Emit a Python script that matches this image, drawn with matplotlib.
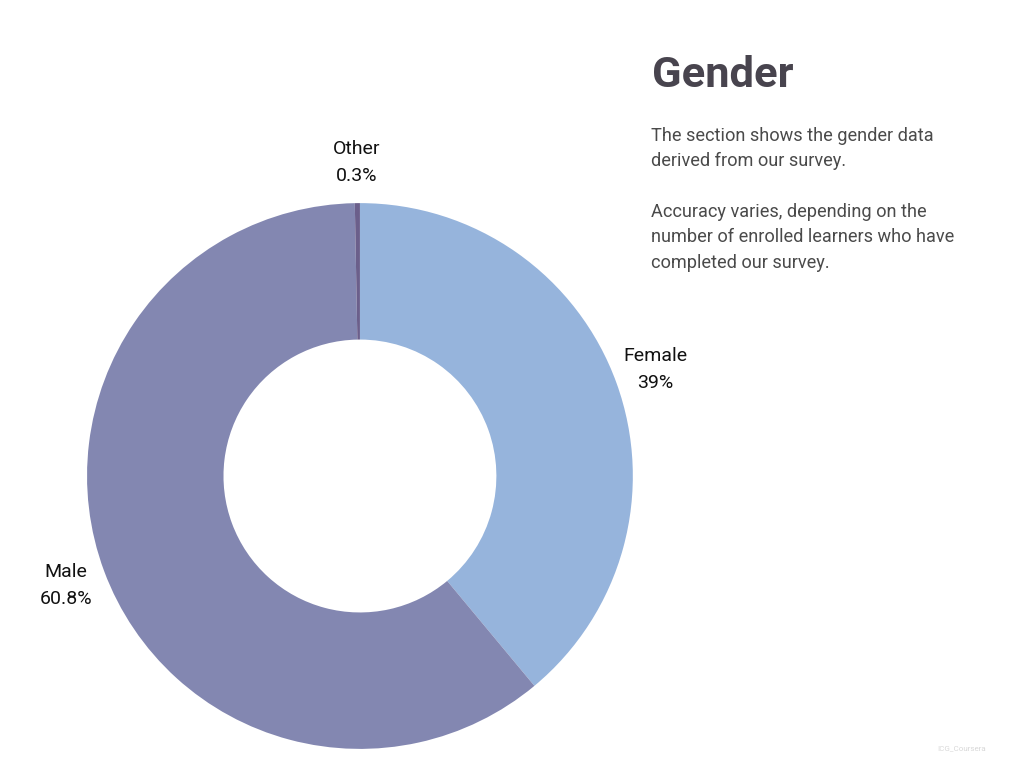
import matplotlib.pyplot as plt

# data
labels = ['Female', 'Male', 'Other']
shares = [39, 60.8, 0.3]
share_text = ['39%', '60.8%', '0.3%']
colors = ['#96b4dc', '#8387b1', '#6b5f8b']

plt.rcParams['font.family'] = ['Roboto', 'DejaVu Sans']

fig = plt.figure(figsize=(10.24, 7.68), dpi=100)

# donut
ax = fig.add_axes([0.085, 0.0247, 0.533, 0.711])
wedges, texts = ax.pie(shares,
                       labels=[l + '\n' + s for l, s in zip(labels, share_text)],
                       colors=colors, startangle=90, counterclock=False,
                       labeldistance=1.15, radius=1.0,
                       wedgeprops=dict(width=0.5, linewidth=0),
                       textprops=dict(fontsize=14, color='#111111'))
for t in texts:
    t.set_ha('center')
    t.set_va('center')
    t.set_linespacing(1.62)
ax.set_xlim(-1, 1)
ax.set_ylim(-1, 1)
ax.set_aspect('equal')

# side text
fig.text(652 / 1024, 1 - 87 / 768, 'Gender', fontsize=31.3, fontweight='bold',
         color='#48444e', ha='left', va='baseline')
fig.text(651 / 1024, 1 - 127 / 768,
         'The section shows the gender data\nderived from our survey.\n\n'
         'Accuracy varies, depending on the\nnumber of enrolled learners who have\n'
         'completed our survey.',
         fontsize=13.1, color='#4a4a4a', ha='left', va='top', linespacing=1.52)

fig.text(962 / 1024, 1 - 748 / 768, 'ICG_Coursera', fontsize=5.8, color='#d8d8d8',
         ha='center', va='center')

plt.savefig('out.png', dpi=100)
